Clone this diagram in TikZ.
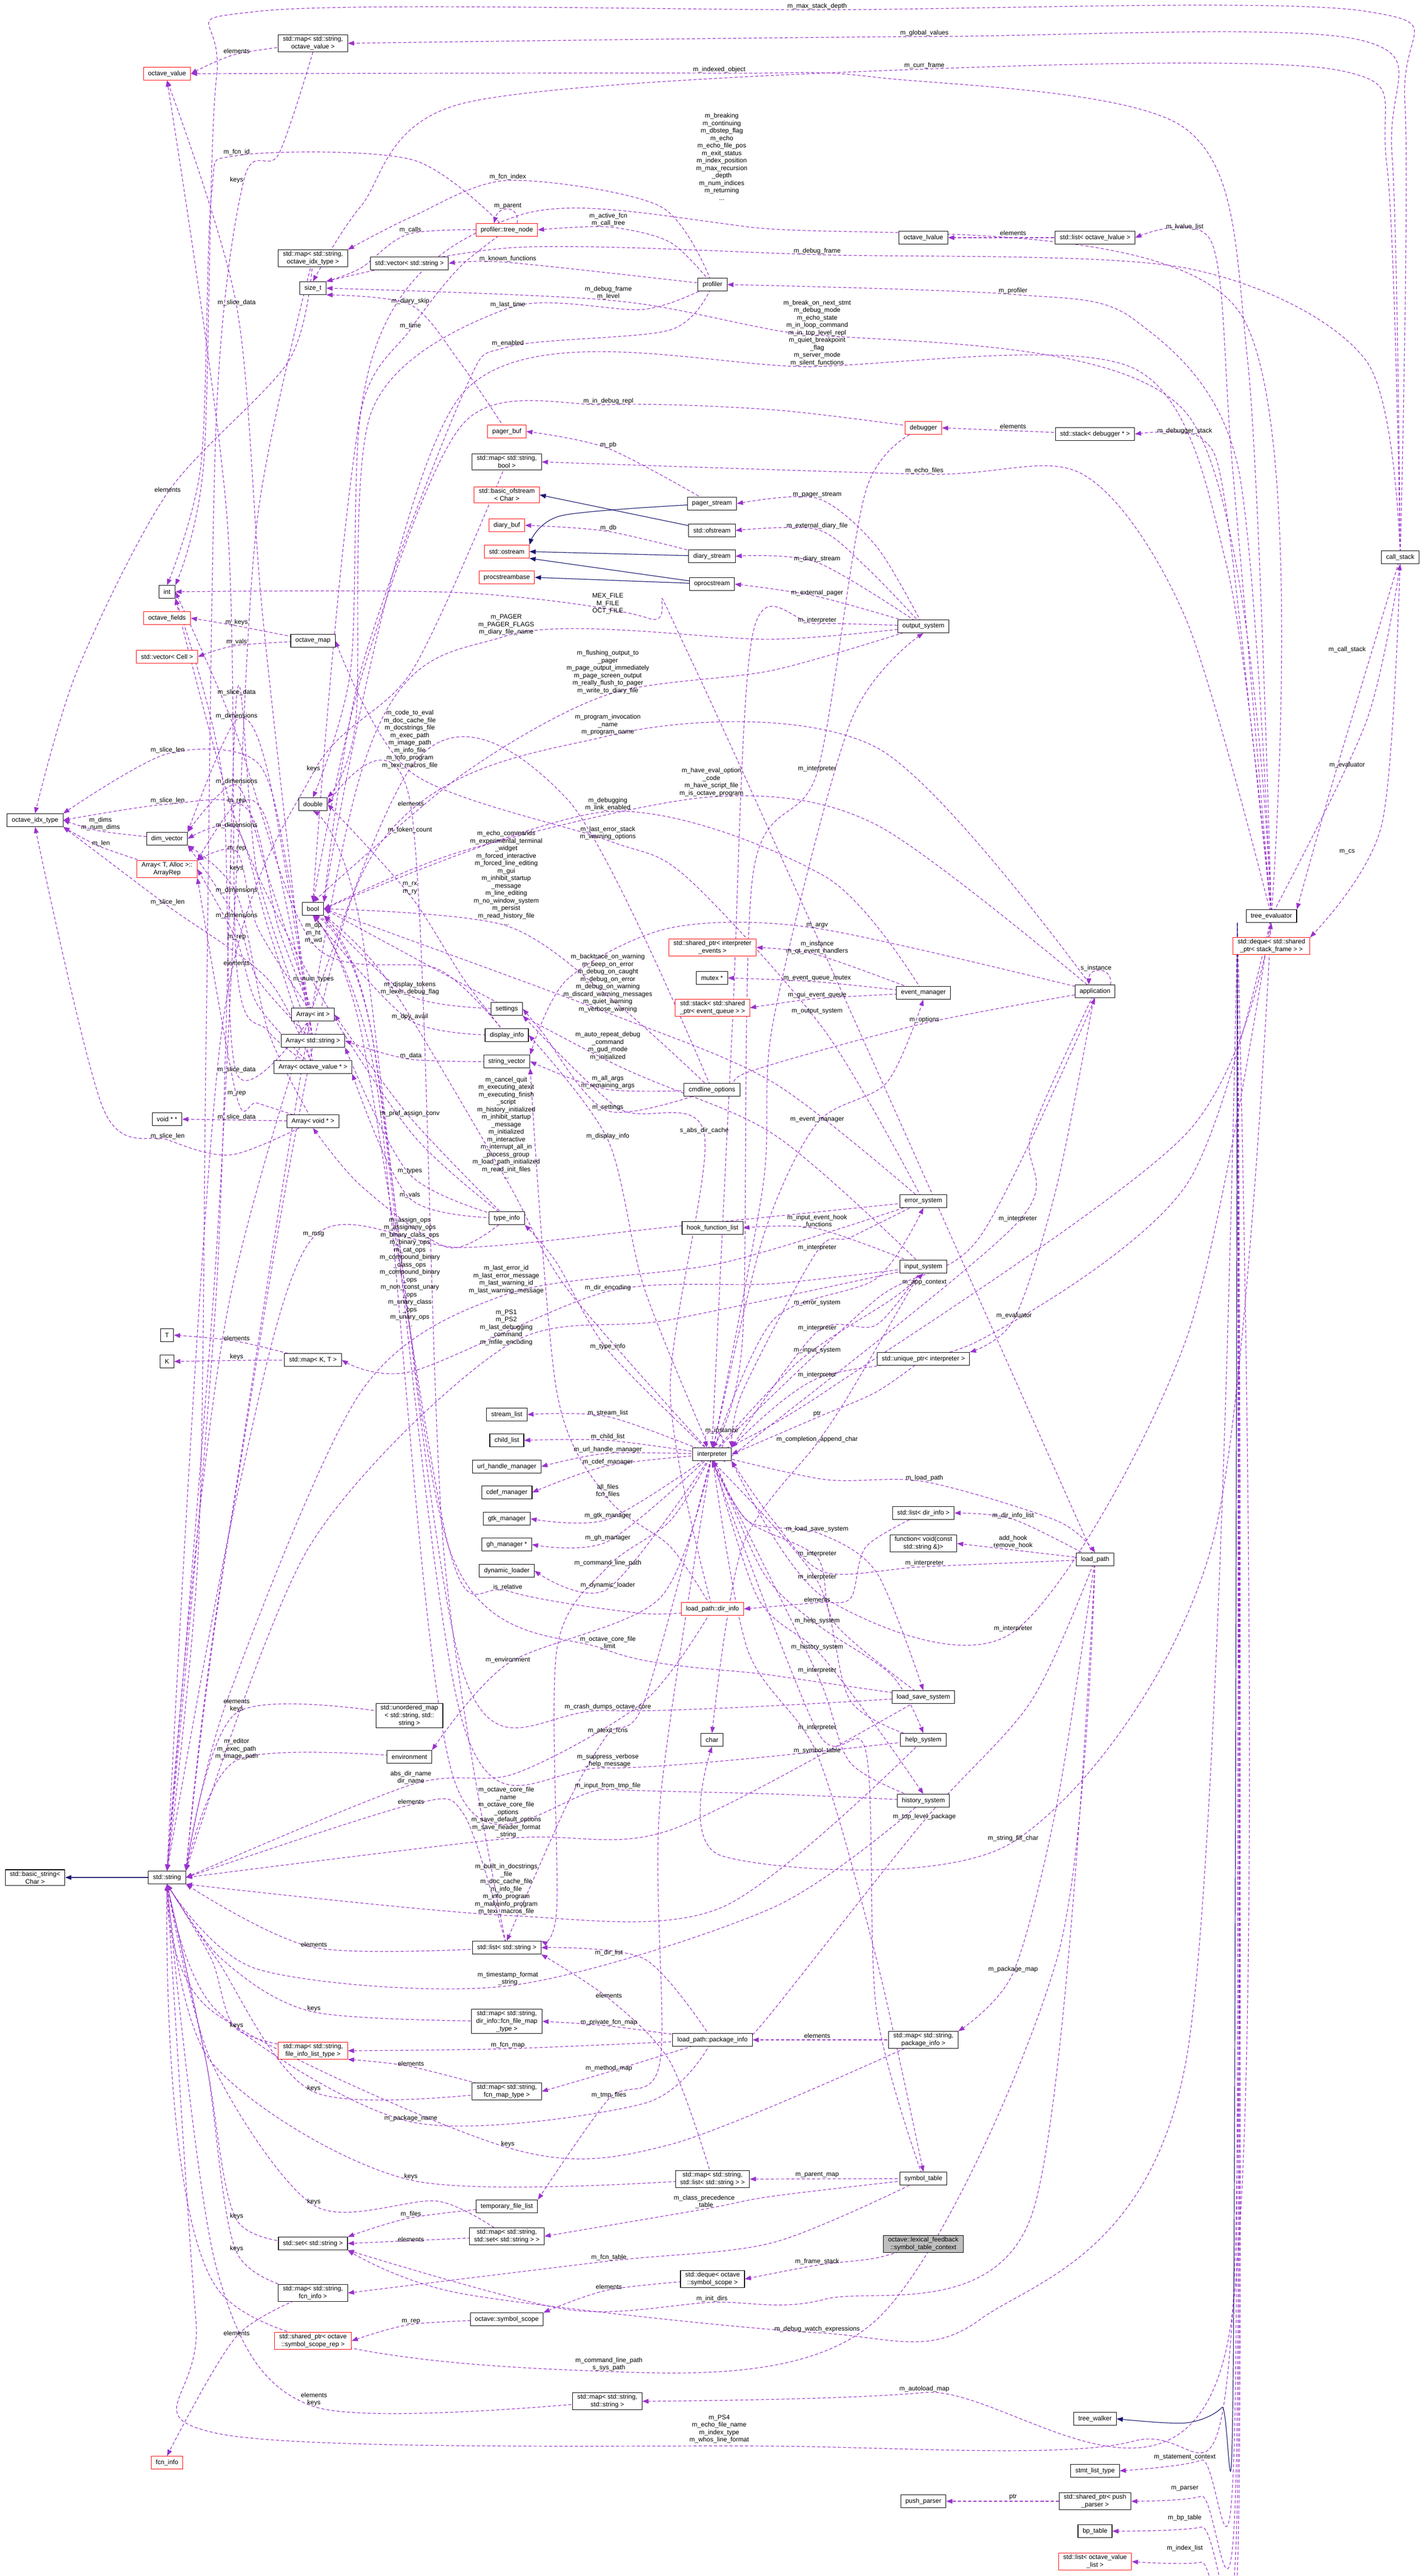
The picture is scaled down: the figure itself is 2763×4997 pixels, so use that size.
\documentclass[tikz,border=0pt]{standalone}
\usepackage{fontspec}
\setmainfont{Liberation Sans}
\usetikzlibrary{arrows.meta}
\pgfdeclarelayer{bg}\pgfsetlayers{bg,main}
\definecolor{purp}{HTML}{9A32CD}
\definecolor{navyb}{HTML}{191970}
\newcommand\ed[1]{\draw[dep] plot[smooth,tension=.5] coordinates {#1};}
\newcommand\inhe[1]{\draw[inh] plot[smooth,tension=.5] coordinates {#1};}
\begin{document}
\begin{tikzpicture}[x=1pt,y=-1pt,
 every node/.style={font=\fontsize{12.5}{15}\selectfont},
 box/.style={draw=black,fill=white,line width=1.1pt,inner xsep=9pt,inner ysep=3pt,minimum height=25pt,align=center},
 rbox/.style={box,draw=red},
 gbox/.style={box,fill=black!25},
 lbl/.style={align=center,inner sep=1pt,font=\fontsize{12.5}{14.5}\selectfont},
 dep/.style={draw=purp,dash pattern=on 6pt off 4pt,line width=1.2pt,-{Triangle[length=12pt,width=9pt]}},
 inh/.style={draw=navyb,line width=1.2pt,-{Triangle[length=12pt,width=9pt]}}]
\useasboundingbox (0,0) rectangle (2763,4997);
% ---------- nodes
\node[box] (oit) at (68,1591) {octave\_idx\_type};
\node[box] (bstr) at (68,3642) {std::basic\_string<\\Char >};
\node[rbox] (ov) at (324,143) {octave\_value};
\node[box] (int) at (324,1148) {int};
\node[rbox] (ofld) at (324,1199) {octave\_fields};
\node[rbox] (vcell) at (324,1274) {std::vector< Cell >};
\node[box] (dimv) at (324,1627) {dim\_vector};
\node[rbox] (arep) at (324,1686) {Array< T, Alloc >::\\ArrayRep};
\node[box] (vpp) at (324,2171) {void * *};
\node[box] (T) at (324,2590) {T};
\node[box] (K) at (324,2641) {K};
\node[box] (str) at (324,3642) {std::string};
\node[rbox] (fcni) at (324,4777) {fcn\_info};
\node[box] (mapov) at (607,84) {std::map< std::string,\\octave\_value >};
\node[box] (mapidx) at (607,501) {std::map< std::string,\\octave\_idx\_type >};
\node[box] (sizet) at (607,559) {size\_t};
\node[box] (omap) at (607,1243) {octave\_map};
\node[box] (dbl) at (607,1560) {double};
\node[box] (bool) at (607,1763) {bool};
\node[box] (aint) at (607,1968) {Array< int >};
\node[box] (astr) at (607,2019) {Array< std::string >};
\node[box] (aovp) at (607,2070) {Array< octave\_value * >};
\node[box] (avp) at (607,2175) {Array< void * >};
\node[box] (mapkt) at (607,2638) {std::map< K, T >};
\node[rbox] (mapfil) at (607,3978) {std::map< std::string,\\file\_info\_list\_type >};
\node[box] (setstr) at (607,4352) {std::set< std::string >};
\node[box] (mapfci) at (607,4448) {std::map< std::string,\\fcn\_info >};
\node[rbox] (spscr) at (607,4541) {std::shared\_ptr< octave\\::symbol\_scope\_rep >};
\node[box] (vecstr) at (794,511) {std::vector< std::string >};
\node[box] (umap) at (794,3328) {std::unordered\_map\\< std::string, std::\\string >};
\node[box] (env) at (794,3408) {environment};
\node[rbox] (tnode) at (983,446) {profiler::tree\_node};
\node[rbox] (pbuf) at (983,837) {pager\_buf};
\node[box] (mapbool) at (983,896) {std::map< std::string,\\bool >};
\node[rbox] (bofs) at (983,960) {std::basic\_ofstream\\< Char >};
\node[rbox] (dbuf) at (983,1019) {diary\_buf};
\node[rbox] (ostr) at (983,1070) {std::ostream};
\node[rbox] (psb) at (983,1120) {procstreambase};
\node[box] (sett) at (983,1957) {settings};
\node[box] (dinfo) at (983,2008) {display\_info};
\node[box] (svec) at (983,2059) {string\_vector};
\node[box] (tinfo) at (983,2363) {type\_info};
\node[box] (slist) at (983,2744) {stream\_list};
\node[box] (clist) at (983,2794) {child\_list};
\node[box] (urlm) at (983,2845) {url\_handle\_manager};
\node[box] (cdef) at (983,2895) {cdef\_manager};
\node[box] (gtk) at (983,2946) {gtk\_manager};
\node[box] (ghm) at (983,2996) {gh\_manager *};
\node[box] (dynl) at (983,3047) {dynamic\_loader};
\node[box] (lstr) at (983,3778) {std::list< std::string >};
\node[box] (mapffm) at (983,3921) {std::map< std::string,\\dir\_info::fcn\_file\_map\\\_type >};
\node[box] (mapfm) at (983,4057) {std::map< std::string,\\fcn\_map\_type >};
\node[box] (tfl) at (983,4280) {temporary\_file\_list};
\node[box] (mapset) at (983,4338) {std::map< std::string,\\std::set< std::string > >};
\node[box] (sscope) at (983,4499) {octave::symbol\_scope};
\node[box] (mapss) at (1178,4658) {std::map< std::string,\\std::string >};
\node[box] (prof) at (1382,552) {profiler};
\node[box] (pstream) at (1381,977) {pager\_stream};
\node[box] (ofs) at (1381,1029) {std::ofstream};
\node[box] (dstream) at (1381,1079) {diary\_stream};
\node[box] (ops) at (1381,1133) {oprocstream};
\node[rbox] (spev) at (1382,1838) {std::shared\_ptr< interpreter\\\_events >};
\node[box] (mutex) at (1381,1897) {mutex *};
\node[rbox] (steq) at (1382,1955) {std::stack< std::shared\\\_ptr< event\_queue > >};
\node[box] (cmdo) at (1381,2114) {cmdline\_options};
\node[box] (hfl) at (1382,2382) {hook\_function\_list};
\node[box] (interp) at (1381,2821) {interpreter};
\node[rbox] (dirinfo) at (1382,3121) {load\_path::dir\_info};
\node[box] (chr) at (1381,3375) {char};
\node[box] (pkgi) at (1382,3957) {load\_path::package\_info};
\node[box] (maplst) at (1382,4227) {std::map< std::string,\\std::list< std::string > >};
\node[box] (dqscope) at (1382,4421) {std::deque< octave\\::symbol\_scope >};
\node[box] (olv) at (1791,461) {octave\_lvalue};
\node[rbox] (dbg) at (1791,830) {debugger};
\node[box] (outs) at (1791,1215) {output\_system};
\node[box] (evm) at (1791,1926) {event\_manager};
\node[box] (errs) at (1791,2330) {error\_system};
\node[box] (ins) at (1791,2457) {input\_system};
\node[box] (upi) at (1791,2636) {std::unique\_ptr< interpreter >};
\node[box] (ldi) at (1791,2935) {std::list< dir\_info >};
\node[box] (fvoid) at (1791,2994) {function< void(const\\std::string \&)>};
\node[box] (lss) at (1791,3292) {load\_save\_system};
\node[box] (help) at (1791,3375) {help\_system};
\node[box] (hist) at (1791,3493) {history\_system};
\node[box] (mappkg) at (1791,3957) {std::map< std::string,\\package\_info >};
\node[box] (symt) at (1791,4226) {symbol\_table};
\node[gbox] (stc) at (1791,4353) {octave::lexical\_feedback\\::symbol\_table\_context};
\node[box] (pp) at (1791,4852) {push\_parser};
\node[box] (llv) at (2124,461) {std::list< octave\_lvalue >};
\node[box] (stdbg) at (2124,842) {std::stack< debugger * >};
\node[box] (app) at (2124,1923) {application};
\node[box] (lp) at (2124,3025) {load\_path};
\node[box] (tw) at (2124,4692) {tree\_walker};
\node[box] (slt) at (2124,4793) {stmt\_list\_type};
\node[box] (spp) at (2124,4852) {std::shared\_ptr< push\\\_parser >};
\node[box] (bpt) at (2124,4910) {bp\_table};
\node[rbox] (lovl) at (2124,4969) {std::list< octave\_value\\\_list >};
\node[box] (te) at (2466,1777) {tree\_evaluator};
\node[rbox] (dqf) at (2466,1835) {std::deque< std::shared\\\_ptr< stack\_frame > >};
\node[box] (cs) at (2716,1081) {call\_stack};
\coordinate (tebus) at (2400,1790);
% ---------- labels
\node[lbl] (a1) at (459,99) {elements};
\node[lbl] (a2) at (459,349) {keys};
\node[lbl] (a3) at (1793,64) {m\_global\_values};
\node[lbl] (a4) at (1585,12) {m\_max\_stack\_depth};
\node[lbl] (a5) at (1793,127) {m\_curr\_frame};
\node[lbl] (a6) at (1395,135) {m\_indexed\_object};
\node[lbl] (a7) at (1400,304) {m\_breaking\\m\_continuing\\m\_dbstep\_flag\\m\_echo\\m\_echo\_file\_pos\\m\_exit\_status\\m\_index\_position\\m\_max\_recursion\\\_depth\\m\_num\_indices\\m\_returning\\...};
\node[lbl] (a8) at (985,400) {m\_parent};
\node[lbl] (a9) at (1180,426) {m\_active\_fcn\\m\_call\_tree};
\node[lbl] (a10) at (985,343) {m\_fcn\_index};
\node[lbl] (a11) at (459,295) {m\_fcn\_id};
\node[lbl] (a12) at (796,446) {m\_calls};
\node[lbl] (a13) at (985,502) {m\_known\_functions};
\node[lbl] (a14) at (1180,568) {m\_debug\_frame\\m\_level};
\node[lbl] (a15) at (985,591) {m\_last\_time};
\node[lbl] (a16) at (796,584) {m\_diary\_skip};
\node[lbl] (a17) at (796,632) {m\_time};
\node[lbl] (a18) at (985,666) {m\_enabled};
\node[lbl] (a19) at (1180,778) {m\_in\_debug\_repl};
\node[lbl] (a20) at (1180,863) {m\_pb};
\node[lbl] (a21) at (1180,1024) {m\_db};
\node[lbl] (a22) at (1179,1171) {MEX\_FILE\\M\_FILE\\OCT\_FILE};
\node[lbl] (a23) at (982,1212) {m\_PAGER\\m\_PAGER\_FLAGS\\m\_diary\_file\_name};
\node[lbl] (a24) at (459,1207) {m\_keys};
\node[lbl] (a25) at (459,1245) {m\_vals};
\node[lbl] (a26) at (1965,452) {elements};
\node[lbl] (a27) at (2298,440) {m\_lvalue\_list};
\node[lbl] (a28) at (1585,487) {m\_debug\_frame};
\node[lbl] (a29) at (1965,564) {m\_profiler};
\node[lbl] (a30) at (1585,646) {m\_break\_on\_next\_stmt\\m\_debug\_mode\\m\_echo\_state\\m\_in\_loop\_command\\m\_in\_top\_level\_repl\\m\_quiet\_breakpoint\\\_flag\\m\_server\_mode\\m\_silent\_functions};
\node[lbl] (a31) at (1965,827) {elements};
\node[lbl] (a32) at (2298,836) {m\_debugger\_stack};
\node[lbl] (a33) at (1793,913) {m\_echo\_files};
\node[lbl] (a34) at (1585,960) {m\_pager\_stream};
\node[lbl] (a35) at (1585,1020) {m\_external\_diary\_file};
\node[lbl] (a36) at (1585,1084) {m\_diary\_stream};
\node[lbl] (a37) at (1585,1150) {m\_external\_pager};
\node[lbl] (a38) at (1585,1203) {m\_interpreter};
\node[lbl] (a39) at (2613,1260) {m\_call\_stack};
\node[lbl] (a40) at (2613,1484) {m\_evaluator};
\node[lbl] (a41) at (2613,1652) {m\_cs};
\node[lbl] (a42) at (1179,1304) {m\_flushing\_output\_to\\\_pager\\m\_page\_output\_immediately\\m\_page\_screen\_output\\m\_really\_flush\_to\_pager\\m\_write\_to\_diary\_file};
\node[lbl] (a43) at (1179,1406) {m\_program\_invocation\\\_name\\m\_program\_name};
\node[lbl] (a44) at (795,1434) {m\_code\_to\_eval\\m\_doc\_cache\_file\\m\_docstrings\_file\\m\_exec\_path\\m\_image\_path\\m\_info\_file\\m\_info\_program\\m\_texi\_macros\_file};
\node[lbl] (a45) at (608,1491) {keys};
\node[lbl] (a46) at (1380,1517) {m\_have\_eval\_option\\\_code\\m\_have\_script\_file\\m\_is\_octave\_program};
\node[lbl] (a47) at (1179,1560) {m\_debugging\\m\_link\_enabled};
\node[lbl] (a48) at (1179,1616) {m\_last\_error\_stack\\m\_warning\_options};
\node[lbl] (a49) at (982,1703) {m\_echo\_commands\\m\_experimental\_terminal\\\_widget\\m\_forced\_interactive\\m\_forced\_line\_editing\\m\_gui\\m\_inhibit\_startup\\\_message\\m\_line\_editing\\m\_no\_window\_system\\m\_persist\\m\_read\_history\_file\\...};
\node[lbl] (a50) at (795,1723) {m\_rx\\m\_ry};
\node[lbl] (a51) at (608,1810) {m\_dp\\m\_ht\\m\_wd};
\node[lbl] (a52) at (608,1900) {m\_num\_types};
\node[lbl] (a53) at (795,1917) {m\_display\_tokens\\m\_lexer\_debug\_flag};
\node[lbl] (a54) at (795,1972) {m\_dpy\_avail};
\node[lbl] (a55) at (797,2048) {m\_data};
\node[lbl] (a56) at (1179,2099) {m\_all\_args\\m\_remaining\_args};
\node[lbl] (a57) at (1179,2148) {m\_settings};
\node[lbl] (a58) at (1179,2204) {m\_display\_info};
\node[lbl] (a59) at (1179,1907) {m\_backtrace\_on\_warning\\m\_beep\_on\_error\\m\_debug\_on\_caught\\m\_debug\_on\_error\\m\_debug\_on\_warning\\m\_discard\_warning\_messages\\m\_quiet\_warning\\m\_verbose\_warning};
\node[lbl] (a60) at (1179,2029) {m\_auto\_repeat\_debug\\\_command\\m\_gud\_mode\\m\_initialized};
\node[lbl] (a61) at (982,2188) {m\_cancel\_quit\\m\_executing\_atexit\\m\_executing\_finish\\\_script\\m\_history\_initialized\\m\_inhibit\_startup\\\_message\\m\_initialized\\m\_interactive\\m\_interrupt\_all\_in\\\_process\_group\\m\_load\_path\_initialized\\m\_read\_init\_files\\...};
\node[lbl] (a62) at (795,2160) {m\_pref\_assign\_conv};
\node[lbl] (a63) at (795,2272) {m\_types};
\node[lbl] (a64) at (795,2318) {m\_vals};
\node[lbl] (a65) at (795,2467) {m\_assign\_ops\\m\_assignany\_ops\\m\_binary\_class\_ops\\m\_binary\_ops\\m\_cat\_ops\\m\_compound\_binary\\\_class\_ops\\m\_compound\_binary\\\_ops\\m\_non\_const\_unary\\\_ops\\m\_unary\_class\\\_ops\\m\_unary\_ops\\...};
\node[lbl] (a66) at (608,2394) {m\_msg};
\node[lbl] (a67) at (982,2482) {m\_last\_error\_id\\m\_last\_error\_message\\m\_last\_warning\_id\\m\_last\_warning\_message};
\node[lbl] (a68) at (982,2575) {m\_PS1\\m\_PS2\\m\_last\_debugging\\\_command\\m\_mfile\_encoding};
\node[lbl] (a69) at (1179,2498) {m\_dir\_encoding};
\node[lbl] (a70) at (1179,2612) {m\_type\_info};
\node[lbl] (a71) at (1585,1491) {m\_interpreter};
\node[lbl] (a72) at (1585,1795) {m\_argv};
\node[lbl] (a73) at (1585,1838) {m\_instance\\m\_qt\_event\_handlers};
\node[lbl] (a74) at (1585,1898) {m\_event\_queue\_mutex};
\node[lbl] (a75) at (1585,1930) {m\_gui\_event\_queue};
\node[lbl] (a76) at (1585,1962) {m\_output\_system};
\node[lbl] (a77) at (1793,1978) {m\_options};
\node[lbl] (a78) at (2126,1878) {s\_instance};
\node[lbl] (a79) at (1585,2172) {m\_event\_manager};
\node[lbl] (a80) at (1585,2369) {m\_input\_event\_hook\\\_functions};
\node[lbl] (a81) at (1585,2420) {m\_interpreter};
\node[lbl] (a82) at (1793,2488) {m\_app\_context};
\node[lbl] (a83) at (1974,2364) {m\_interpreter};
\node[lbl] (a84) at (1585,2528) {m\_error\_system};
\node[lbl] (a85) at (1585,2576) {m\_interpreter};
\node[lbl] (a86) at (1585,2619) {m\_input\_system};
\node[lbl] (a87) at (1585,2667) {m\_interpreter};
\node[lbl] (a88) at (1967,2552) {m\_evaluator};
\node[lbl] (a89) at (1585,2743) {ptr};
\node[lbl] (a90) at (1585,2792) {m\_completion\_append\_char};
\node[lbl] (a91) at (1400,2775) {m\_instance};
\node[lbl] (a92) at (1793,2867) {m\_load\_path};
\node[lbl] (a93) at (1965,2940) {m\_dir\_info\_list};
\node[lbl] (a94) at (1965,2991) {add\_hook\\remove\_hook};
\node[lbl] (a95) at (1793,3032) {m\_interpreter};
\node[lbl] (a96) at (1585,2966) {m\_load\_save\_system};
\node[lbl] (a97) at (1585,3014) {m\_interpreter};
\node[lbl] (a98) at (1585,3059) {m\_interpreter};
\node[lbl] (a99) at (1585,3103) {elements};
\node[lbl] (a100) at (1585,3144) {m\_help\_system};
\node[lbl] (a101) at (1585,3195) {m\_history\_system};
\node[lbl] (a102) at (1585,3240) {m\_interpreter};
\node[lbl] (a103) at (1965,3159) {m\_interpreter};
\node[lbl] (a104) at (1585,3396) {m\_symbol\_table};
\node[lbl] (a105) at (1585,3351) {m\_interpreter};
\node[lbl] (a106) at (1793,3524) {m\_top\_level\_package};
\node[lbl] (a107) at (1965,3566) {m\_string\_fill\_char};
\node[lbl] (a108) at (1179,2741) {m\_stream\_list};
\node[lbl] (a109) at (1179,2787) {m\_child\_list};
\node[lbl] (a110) at (1179,2812) {m\_url\_handle\_manager};
\node[lbl] (a111) at (1179,2836) {m\_cdef\_manager};
\node[lbl] (a112) at (1179,2892) {all\_files\\fcn\_files};
\node[lbl] (a113) at (1179,2940) {m\_gtk\_manager};
\node[lbl] (a114) at (1179,2983) {m\_gh\_manager};
\node[lbl] (a115) at (1179,3032) {m\_command\_line\_path};
\node[lbl] (a116) at (1179,3075) {m\_dynamic\_loader};
\node[lbl] (a117) at (985,3079) {is\_relative};
\node[lbl] (a118) at (1179,3187) {m\_octave\_core\_file\\\_limit};
\node[lbl] (a119) at (985,3220) {m\_environment};
\node[lbl] (a120) at (1179,3311) {m\_crash\_dumps\_octave\_core};
\node[lbl] (a121) at (1179,3357) {m\_atexit\_fcns};
\node[lbl] (a122) at (1179,3415) {m\_suppress\_verbose\\\_help\_message};
\node[lbl] (a123) at (1179,3464) {m\_input\_from\_tmp\_file};
\node[lbl] (a124) at (459,3308) {elements\\keys};
\node[lbl] (a125) at (459,3393) {m\_editor\\m\_exec\_path\\m\_image\_path};
\node[lbl] (a126) at (797,3448) {abs\_dir\_name\\dir\_name};
\node[lbl] (a127) at (797,3495) {elements};
\node[lbl] (a128) at (982,3516) {m\_octave\_core\_file\\\_name\\m\_octave\_core\_file\\\_options\\m\_save\_default\_options\\m\_save\_header\_format\\\_string};
\node[lbl] (a129) at (982,3665) {m\_built\_in\_docstrings\\\_file\\m\_doc\_cache\_file\\m\_info\_file\\m\_info\_program\\m\_makeinfo\_program\\m\_texi\_macros\_file};
\node[lbl] (a130) at (459,2596) {elements};
\node[lbl] (a131) at (459,2632) {keys};
\node[lbl] (a132) at (609,3772) {elements};
\node[lbl] (a133) at (1181,3788) {m\_dir\_list};
\node[lbl] (a134) at (985,3838) {m\_timestamp\_format\\\_string};
\node[lbl] (a135) at (1181,3871) {elements};
\node[lbl] (a136) at (609,3896) {keys};
\node[lbl] (a137) at (1181,3923) {m\_private\_fcn\_map};
\node[lbl] (a138) at (459,3929) {keys};
\node[lbl] (a139) at (985,3967) {m\_fcn\_map};
\node[lbl] (a140) at (797,4003) {elements};
\node[lbl] (a141) at (1181,4012) {m\_method\_map};
\node[lbl] (a142) at (609,4051) {keys};
\node[lbl] (a143) at (1181,4064) {m\_tmp\_files};
\node[lbl] (a144) at (797,4109) {m\_package\_name};
\node[lbl] (a145) at (985,4159) {keys};
\node[lbl] (a146) at (797,4222) {keys};
\node[lbl] (a147) at (609,4271) {keys};
\node[lbl] (a148) at (797,4295) {m\_files};
\node[lbl] (a149) at (459,4299) {keys};
\node[lbl] (a150) at (797,4344) {elements};
\node[lbl] (a151) at (459,4362) {keys};
\node[lbl] (a152) at (1181,4379) {m\_fcn\_table};
\node[lbl] (a153) at (1181,4436) {elements};
\node[lbl] (a154) at (1366,4271) {m\_class\_precedence\\\_table};
\node[lbl] (a155) at (1381,4459) {m\_init\_dirs};
\node[lbl] (a156) at (797,4503) {m\_rep};
\node[lbl] (a157) at (459,4526) {elements};
\node[lbl] (a158) at (1181,4586) {m\_command\_line\_path\\s\_sys\_path};
\node[lbl] (a159) at (609,4654) {elements\\keys};
\node[lbl] (a160) at (1395,4712) {m\_PS4\\m\_echo\_file\_name\\m\_index\_type\\m\_whos\_line\_format};
\node[lbl] (a161) at (1965,3820) {m\_package\_map};
\node[lbl] (a162) at (1585,3949) {elements};
\node[lbl] (a163) at (1585,4219) {m\_parent\_map};
\node[lbl] (a164) at (1585,4387) {m\_frame\_stack};
\node[lbl] (a165) at (1585,4518) {m\_debug\_watch\_expressions};
\node[lbl] (a166) at (1793,4634) {m\_autoload\_map};
\node[lbl] (a167) at (2298,4767) {m\_statement\_context};
\node[lbl] (a168) at (2298,4827) {m\_parser};
\node[lbl] (a169) at (1965,4844) {ptr};
\node[lbl] (a170) at (2298,4884) {m\_bp\_table};
\node[lbl] (a171) at (2298,4943) {m\_index\_list};
\node[lbl] (a172) at (325,950) {elements};
\node[lbl] (b1) at (325,1455) {m\_slice\_len};
\node[lbl] (b2) at (325,1553) {m\_slice\_len};
\node[lbl] (b3) at (325,1750) {m\_slice\_len};
\node[lbl] (b4) at (325,2204) {m\_slice\_len};
\node[lbl] (b5) at (195,1598) {m\_dims\\m\_num\_dims};
\node[lbl] (b6) at (196,1636) {m\_len};
\node[lbl] (b7) at (459,2167) {m\_slice\_data};
\node[lbl] (b8) at (459,1343) {m\_slice\_data};
\node[lbl] (b9) at (459,2075) {m\_slice\_data};
\node[lbl] (b10) at (459,587) {m\_slice\_data};
\node[lbl] (b11) at (459,1389) {m\_dimensions};
\node[lbl] (b12) at (459,1516) {m\_dimensions};
\node[lbl] (b13) at (459,1601) {m\_dimensions};
\node[lbl] (b14) at (459,1727) {m\_dimensions};
\node[lbl] (b15) at (459,1776) {m\_dimensions};
\node[lbl] (b16) at (459,1554) {m\_rep};
\node[lbl] (b17) at (459,1646) {m\_rep};
\node[lbl] (b18) at (459,1818) {m\_rep};
\node[lbl] (b19) at (459,2121) {m\_rep};
\node[lbl] (b20) at (459,1684) {keys};
\node[lbl] (b21) at (459,1868) {elements};
\node[lbl] (b23) at (797,1559) {elements};
\node[lbl] (b24) at (795,1610) {m\_token\_count};
\node[lbl] (b25) at (1366,2193) {s\_abs\_dir\_cache};
% ---------- edges
\begin{pgfonlayer}{bg}
\fill[white] (0,0) rectangle (2763,4997);
\ed{(mapov) (a1.south) (ov.east)}
\ed{(mapov.south) (540,300) (a2.east) (420,800) (400,2000) (385,3000) (str.north)}
\ed{(cs) (2700,300) (2640,78) (a3.south) (mapov.east)}
\ed{(cs) (2725,200) (2650,22) (a4.south) (500,22) (420,150) (395,900) (int.north east)}
\ed{(cs) (2690,320) (2600,137) (a5.south) (900,200) (700,400) (sizet.north)}
\ed{(te) (2420,700) (2300,250) (1700,150) (a6.south) (ov.east)}
\ed{(te) (2400,600) (1450,440) (1000,420) (720,700) (bool.north)}
\draw[dep] ([xshift=20]tnode.north) .. controls +(5,-35) and +(10,-35) .. ([xshift=-25]tnode.north);
\ed{(prof) (1300,470) (a9.south) (tnode.east)}
\ed{(prof) (1280,400) (a10.south) (800,420) (mapidx.north east)}
\ed{(tnode) (800,310) (a11.south) (410,380) (390,900) (int.north)}
\ed{(tnode) (a12.south) (700,520) (sizet.north east)}
\ed{(prof) (a13.south) (vecstr.east)}
\ed{(te) (2300,800) (1500,640) (a14.south) (sizet.east)}
\ed{(prof) (1250,600) (a15.south) (720,800) (690,1400) (dbl.north east)}
\ed{(pbuf) (890,700) (a16.south) (sizet.south east)}
\ed{(tnode) (890,520) (a17.south) (700,800) (680,1300) (dbl.north)}
\ed{(prof) (1300,640) (a18.south) (900,760) (700,1300) (bool.north east)}
\ed{(dbg) (1500,795) (a19.south) (900,820) (705,1300) (bool.north)}
\ed{(pstream) (a20.south) (pbuf.east)}
\ed{(dstream) (a21.south) (dbuf.east)}
\ed{(lp) (1350,1300) (1260,1200) (900,1150) (int.east)}
\ed{(outs) (1500,1240) (a23.south) (700,1500) (440,3000) (str.north east)}
\ed{(omap) (a24.south) (ofld.east)}
\ed{(omap) (a25.south) (vcell.east)}
\ed{(llv) (olv.east)}
\ed{(te) (2390,900) (2350,470) (llv.east)}
\ed{(cs) (2650,700) (2300,520) (a28.south) (1000,480) (sizet.north east)}
\ed{(te) (2400,900) (2200,620) (a29.south) (prof.east)}
\ed{(te) (2380,1100) (2200,715) (a30.south) (900,760) (bool.north east)}
\ed{(stdbg) (dbg.east)}
\ed{(te) (2380,1000) (2330,850) (stdbg.east)}
\ed{(te) (2300,1200) (2100,920) (a33.south) (mapbool.east)}
\ed{(outs) (1700,1060) (a34.south) (pstream.east)}
\ed{(outs) (1680,1100) (a35.south) (ofs.east)}
\ed{(outs) (a36.south) (dstream.east)}
\ed{(outs) (a37.south) (ops.east)}
\ed{(outs) (a38.south) (1460,1230) (1420,2000) (interp.north)}
\ed{(te) (2650,1400) (cs.south)}
\ed{(cs) (2590,1500) (te.north east)}
\ed{(cs) (2680,1600) (dqf.north east)}
\ed{(outs) (1500,1300) (a42.south) (900,1500) (bool.north)}
\ed{(app) (1700,1450) (a43.south) (700,1700) (440,3000) (str.north east)}
\ed{(cmdo) (1100,1550) (a44.south) (450,2500) (str.north)}
\ed{(mapbool) (800,1300) (a45.south) (430,2000) (str.north)}
\ed{(app) (1700,1600) (a46.south) (900,1650) (bool.east)}
\ed{(evm) (1600,1700) (a47.south) (bool.east)}
\ed{(errs) (1600,2000) (1330,1700) (a48.south) (800,1500) (omap.east)}
\ed{(cmdo) (1200,1950) (a49.south) (bool.east)}
\ed{(dinfo) (900,1900) (a50.south) (dbl.east)}
\ed{(dinfo) (850,1880) (a51.south) (450,1400) (int.east)}
\ed{(tinfo) (800,2200) (a52.south) (460,1600) (int.south east)}
\ed{(sett) (a53.south) (bool.south east)}
\ed{(dinfo) (a54.south) (bool.south)}
\ed{(svec) (a55.south) (astr.east)}
\ed{(cmdo) (a56.south) (svec.east)}
\ed{(cmdo) (a57.south) (1050,2000) (sett.east)}
\ed{(interp) (1250,2500) (a58.south) (dinfo.east)}
\ed{(errs) (1500,2100) (a59.south) (bool.east)}
\ed{(ins) (1500,2200) (a60.south) (bool.east)}
\ed{(interp) (1100,2500) (a61.south) (750,1900) (bool.south east)}
\ed{(tinfo) (a62.south) (aint.east)}
\ed{(tinfo) (a63.south) (astr.south east)}
\ed{(tinfo) (a64.south) (aovp.south east)}
\ed{(tinfo) (870,2420) (700,2300) (avp.south)}
\ed{(errs) (1300,2380) (900,2420) (a66.south) (460,2900) (str.north)}
\ed{(errs) (1400,2450) (a67.south) (700,2700) (440,3300) (str.north east)}
\ed{(ins) (1300,2560) (a68.south) (600,3000) (str.north east)}
\ed{(ins) (1500,2490) (a69.south) (800,2660) (mapkt.east)}
\ed{(interp) (a70.south) (1080,2450) (tinfo.south east)}
\ed{(dbg) (1680,950) (a71.south) (1460,1700) (1440,2600) (interp.north)}
\ed{(app) (a72.south) (1300,1800) (1100,1900) (svec.north east)}
\ed{(evm) (a73.south) (spev.east)}
\ed{(evm) (a74.south) (mutex.east)}
\ed{(evm) (a75.south) (steq.east)}
\ed{(interp) (1480,2300) (1500,1980) (1650,1400) (outs.south)}
\ed{(app) (a77.south) (1450,2080) (cmdo.east)}
\draw[dep] ([xshift=30]app.north) .. controls +(5,-35) and +(0,-35) .. ([xshift=-12]app.north);
\ed{(interp) (1480,2400) (a79.south) (1720,2100) (evm.south)}
\ed{(ins) (a80.south) (hfl.east)}
\ed{(errs) (1650,2400) (a81.south) (1440,2700) (interp.north east)}
\ed{(interp) (1700,2520) (1900,2400) (app.south)}
\ed{(app) (2000,2200) (a83.south) (1450,2800) (interp.east)}
\ed{(interp) (1500,2560) (1700,2480) (errs.south)}
\ed{(ins) (1700,2570) (a85.south) (interp.north east)}
\ed{(interp) (1550,2640) (1730,2520) (ins.south)}
\ed{(te) (2300,2300) (1900,2600) (a87.south) (interp.north east)}
\ed{(app) (2050,2300) (a88.south) (upi.north east)}
\ed{(interp) (1600,2700) (2300,2200) (te.south)}
\ed{(upi) (1700,2700) (a89.south) (interp.east)}
\ed{(ins) (1650,2700) (a90.south) (1440,3000) (chr.north)}
\draw[dep] ([xshift=20]interp.north) .. controls +(10,-40) and +(-10,-40) .. ([xshift=-10]interp.north);
\ed{(interp) (1600,2870) (a92.south) (2050,2950) (lp.north)}
\ed{(lp) (a93.south) (ldi.east)}
\ed{(lp) (fvoid.east)}
\ed{(lp) (a95.south) (1600,3050) (1500,2950) (interp.south east)}
\ed{(interp) (1450,2950) (a96.south) (1700,3050) (lss.north)}
\ed{(lss) (1620,3150) (a97.south) (1450,2950) (interp.south)}
\ed{(help) (1650,3300) (a98.south) (interp.south)}
\ed{(ldi) (1680,3000) (1650,3100) (a99.south) (dirinfo.east)}
\ed{(interp) (1480,3050) (a100.south) (1730,3250) (help.north)}
\ed{(interp) (1470,3100) (a101.south) (1700,3350) (hist.north)}
\ed{(hist) (1650,3420) (a102.south) (interp.south)}
\ed{(te) (2300,2600) (a103.south) (1600,3100) (interp.south east)}
\ed{(interp) (1450,3200) (a104.south) (1700,3800) (symt.north)}
\ed{(symt) (1700,3900) (1680,3400) (a105.south) (interp.south)}
\ed{(lp) (2000,3300) (a106.south) (1500,3900) (pkgi.north east)}
\ed{(te) (2350,3000) (a107.south) (1400,3600) (chr.south)}
\ed{(interp) (a108.south) (slist.east)}
\ed{(interp) (a109.south) (clist.east)}
\ed{(interp) (a110.south) (urlm.east)}
\ed{(interp) (a111.south) (cdef.east)}
\ed{(dirinfo) (1300,3000) (a112.south) (1080,2700) (svec.south east)}
\ed{(interp) (a113.south) (gtk.east)}
\ed{(interp) (a114.south) (ghm.east)}
\ed{(interp) (1300,2950) (a115.south) (1080,3200) (1080,3700) (lstr.north east)}
\ed{(interp) (a116.south) (dynl.east)}
\ed{(dirinfo) (1250,3130) (a117.south) (870,3000) (700,2000) (bool.south)}
\ed{(lss) (1500,3250) (a118.south) (870,3000) (700,1800) (dbl.south)}
\ed{(interp) (1280,3100) (a119.south) (env.north east)}
\ed{(lss) (a120.south) (900,3250) (720,2000) (bool.south)}
\ed{(interp) (1250,3300) (a121.south) (1100,3500) (lstr.north)}
\ed{(help) (a122.south) (900,3350) (720,2000) (bool.south)}
\ed{(hist) (1500,3480) (a123.south) (880,3450) (730,2100) (bool.south)}
\ed{(umap) (a124.south) (str.north east)}
\ed{(env) (a125.south) (str.north east)}
\ed{(dirinfo) (1250,3300) (1000,3440) (a126.south) (str.east)}
\ed{(lstr) (900,3520) (a127.south) (str.east)}
\ed{(lss) (1300,3550) (a128.south) (str.east)}
\ed{(help) (1400,3700) (a129.south) (str.south east)}
\ed{(mapkt) (a130.south) (T.east)}
\ed{(mapkt) (a131.south) (K.east)}
\ed{(lstr) (a132.south) (str.south east)}
\ed{(pkgi) (1250,3800) (lstr.east)}
\ed{(hist) (1500,3700) (a134.south) (500,3820) (str.south)}
\ed{(maplst) (1300,4000) (a135.south) (lstr.south east)}
\ed{(mapffm) (a136.south) (430,3800) (str.south)}
\ed{(pkgi) (a137.south) (mapffm.east)}
\ed{(mapfil) (a138.south) (410,3800) (str.south)}
\ed{(pkgi) (a139.south) (mapfil.east)}
\ed{(mapfm) (a140.south) (mapfil.south east)}
\ed{(pkgi) (a141.south) (mapfm.east)}
\ed{(mapfm) (a142.south) (420,3800) (str.south)}
\ed{(interp) (1280,3500) (1280,4000) (a143.south) (tfl.north east)}
\ed{(pkgi) (1250,4080) (a144.south) (420,3900) (str.south)}
\ed{(mappkg) (1300,4160) (a145.south) (410,3900) (str.south)}
\ed{(maplst) (a146.south) (410,4000) (str.south)}
\ed{(mapset) (850,4270) (a147.south) (410,4000) (str.south)}
\ed{(tfl) (a148.south) (setstr.north east)}
\ed{(setstr) (a149.south) (400,4000) (str.south)}
\ed{(mapset) (setstr.east)}
\ed{(mapfci) (a151.south) (400,4000) (str.south)}
\ed{(symt) (1500,4350) (a152.south) (mapfci.east)}
\ed{(dqscope) (a153.south) (sscope.north east)}
\ed{(symt) (1500,4260) (a154.south) (mapset.east)}
\ed{(lp) (2000,4300) (1600,4460) (a155.south) (1100,4480) (setstr.south east)}
\ed{(sscope) (a156.south) (spscr.east)}
\ed{(mapfci) (a157.south) (fcni.north)}
\ed{(lp) (2050,3800) (1700,4500) (a158.south) (430,4450) (str.south)}
\ed{(mapss) (a159.south) (420,4400) (str.south)}
\ed{(tebus) (2390,4500) (2200,4735) (1500,4745) (420,4720) (380,4500) (str.south)}
\ed{(lp) (2050,3500) (a161.south) (mappkg.north east)}
\ed{(mappkg) (pkgi.east)}
\ed{(symt) (maplst.east)}
\ed{(stc) (1700,4380) (a164.south) (dqscope.east)}
\ed{(tebus) (2300,4000) (1900,4500) (a165.south) (900,4450) (setstr.south east)}
\ed{(tebus) (2380,4550) (a166.south) (mapss.east)}
\ed{(tebus) (2395,4700) (2330,4772) (slt.east)}
\ed{(tebus) (2398,4780) (2330,4842) (spp.east)}
\ed{(spp) (pp.east)}
\ed{(tebus) (2400,4850) (2330,4902) (bpt.east)}
\ed{(tebus) (2402,4920) (2330,4970) (lovl.east)}
\ed{(mapidx) (560,700) (a172.south) (150,1300) (oit.north)}
\ed{(astr) (560,1700) (500,1480) (b1.south) (oit.north east)}
\ed{(aint) (540,1800) (480,1570) (b2.south) (oit.east)}
\ed{(aovp) (520,1900) (b3.south) (oit.south east)}
\ed{(avp) (450,2240) (b4.south) (200,2150) (oit.south)}
\ed{(dimv) (b5.south) (oit.east)}
\ed{(arep) (b6.south) (oit.south east)}
\ed{(avp) (vpp.east)}
\ed{(astr) (500,1700) (b8.south) (420,2500) (str.north)}
\ed{(aint) (b9.south) (430,1500) (int.south east)}
\ed{(aovp) (510,1200) (b10.south) (ov.south)}
\ed{(astr) (520,1500) (b11.south) (dimv.north east)}
\ed{(aint) (520,1700) (b12.south) (dimv.north east)}
\ed{(aovp) (520,1800) (b13.south) (dimv.east)}
\ed{(avp) (520,2000) (b14.south) (dimv.south east)}
\ed{(astr) (500,1900) (b15.south) (dimv.south east)}
\ed{(astr) (520,1600) (b16.south) (arep.north east)}
\ed{(aint) (500,1800) (b17.south) (arep.north east)}
\ed{(aovp) (500,1950) (b18.south) (arep.east)}
\ed{(avp) (500,2140) (b19.south) (arep.south east)}
\ed{(mapidx) (500,1000) (b20.south) (415,2500) (str.north)}
\ed{(aovp) (520,2000) (b21.south) (440,1000) (ov.south)}
\ed{(lstr) (860,3000) (b23.south) (dbl.east)}
\ed{(dirinfo) (1300,2700) (b25.south) (1200,2150) (sett.south east)}
% inheritance
\inhe{(pstream) (1090,1000) (ostr.north east)}
\inhe{(ofs) (bofs.east)}
\inhe{(dstream) (ostr.east)}
\inhe{(ops) (ostr.south east)}
\inhe{(ops) (psb.east)}
\inhe{(str) (bstr.east)}
\inhe{(tebus) (2392,4600) (2370,4670) (2300,4700) (tw.east)}
\end{pgfonlayer}
\end{tikzpicture}
\end{document}
